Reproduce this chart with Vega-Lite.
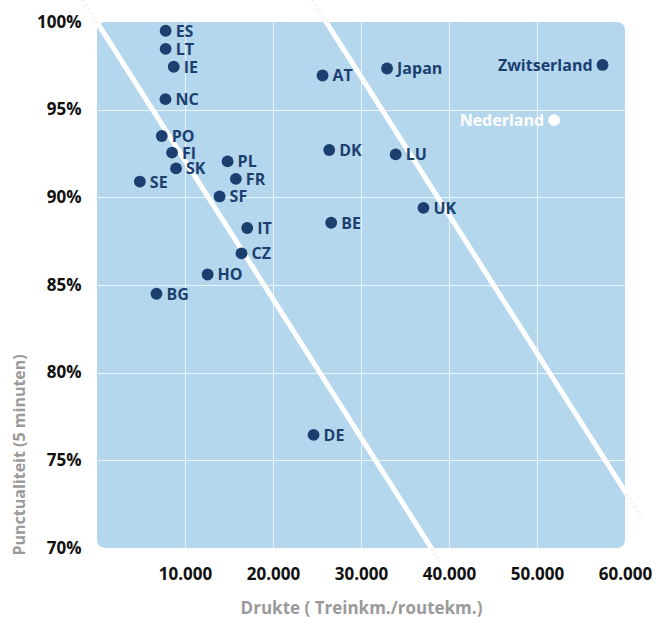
{
  "$schema": "https://vega.github.io/schema/vega-lite/v6.json",
  "width": 528,
  "height": 526,
  "autosize": {"type": "none"},
  "padding": {"left": 97, "top": 22, "right": 31, "bottom": 69},
  "background": "white",
  "config": {
    "font": "Open Sans",
    "view": {"fill": "#b4d7ee", "stroke": null, "cornerRadius": 8}
  },
  "datasets": {
    "landen": [
      {"land": "ES", "drukte": 7800, "punct": 99.5, "kant": "rechts"},
      {"land": "LT", "drukte": 7800, "punct": 98.47, "kant": "rechts"},
      {"land": "IE", "drukte": 8720, "punct": 97.45, "kant": "rechts"},
      {"land": "NC", "drukte": 7780, "punct": 95.6, "kant": "rechts"},
      {"land": "PO", "drukte": 7360, "punct": 93.5, "kant": "rechts"},
      {"land": "FI", "drukte": 8530, "punct": 92.55, "kant": "rechts"},
      {"land": "SK", "drukte": 8980, "punct": 91.65, "kant": "rechts"},
      {"land": "SE", "drukte": 4870, "punct": 90.9, "kant": "rechts"},
      {"land": "PL", "drukte": 14840, "punct": 92.05, "kant": "rechts"},
      {"land": "FR", "drukte": 15780, "punct": 91.05, "kant": "rechts"},
      {"land": "SF", "drukte": 13930, "punct": 90.05, "kant": "rechts"},
      {"land": "IT", "drukte": 17070, "punct": 88.25, "kant": "rechts"},
      {"land": "CZ", "drukte": 16420, "punct": 86.8, "kant": "rechts"},
      {"land": "HO", "drukte": 12570, "punct": 85.6, "kant": "rechts"},
      {"land": "BG", "drukte": 6760, "punct": 84.5, "kant": "rechts"},
      {"land": "DE", "drukte": 24610, "punct": 76.45, "kant": "rechts"},
      {"land": "AT", "drukte": 25630, "punct": 96.95, "kant": "rechts"},
      {"land": "Japan", "drukte": 32960, "punct": 97.35, "kant": "rechts"},
      {"land": "Zwitserland", "drukte": 57450, "punct": 97.55, "kant": "links"},
      {"land": "Nederland", "drukte": 51950, "punct": 94.4, "kant": "links"},
      {"land": "DK", "drukte": 26390, "punct": 92.7, "kant": "rechts"},
      {"land": "LU", "drukte": 33940, "punct": 92.45, "kant": "rechts"},
      {"land": "UK", "drukte": 37100, "punct": 89.4, "kant": "rechts"},
      {"land": "BE", "drukte": 26610, "punct": 88.55, "kant": "rechts"}
    ],
    "lijnen": [
      {"lijn": "a", "drukte": -1600, "punct": 101.25},
      {"lijn": "a", "drukte": 39000, "punct": 69.2},
      {"lijn": "b", "drukte": 24460, "punct": 101.25},
      {"lijn": "b", "drukte": 62060, "punct": 71.6}
    ]
  },
  "encoding": {
    "x": {
      "field": "drukte",
      "type": "quantitative",
      "scale": {"domain": [0, 60000], "nice": false, "zero": false},
      "axis": {
        "values": [10000, 20000, 30000, 40000, 50000, 60000],
        "labelExpr": "replace(format(datum.value, ','), ',', '.')",
        "labelFlush": false,
        "labelOverlap": false,
        "title": "Drukte ( Treinkm./routekm.)",
        "titleColor": "#9a9a9a",
        "titleFontSize": 17,
        "titleFontWeight": "bold",
        "titleY": 65,
        "titleBaseline": "alphabetic",
        "labelFontSize": 17,
        "labelFontWeight": "bold",
        "labelColor": "#111111",
        "labelPadding": 18,
        "ticks": false,
        "domain": false,
        "grid": true,
        "gridColor": {"condition": {"test": "datum.value >= 60000", "value": "transparent"}, "value": "#ffffff"},
        "gridOpacity": 0.75,
        "gridWidth": 1
      }
    },
    "y": {
      "field": "punct",
      "type": "quantitative",
      "scale": {"domain": [70, 100], "nice": false, "zero": false},
      "axis": {
        "values": [70, 75, 80, 85, 90, 95, 100],
        "labelExpr": "datum.value + '%'",
        "labelFlush": false,
        "labelOverlap": false,
        "title": "Punctualiteit (5 minuten)",
        "titleColor": "#9a9a9a",
        "titleFontSize": 16,
        "titleFontWeight": "bold",
        "titleAngle": -90,
        "titleAlign": "left",
        "titleBaseline": "bottom",
        "titleX": -70,
        "titleY": 533,
        "labelFontSize": 17,
        "labelFontWeight": "bold",
        "labelColor": "#111111",
        "labelPadding": 16,
        "ticks": false,
        "domain": false,
        "grid": true,
        "gridColor": {"condition": {"test": "datum.value <= 70 || datum.value >= 100", "value": "transparent"}, "value": "#ffffff"},
        "gridOpacity": 0.75,
        "gridWidth": 1
      }
    }
  },
  "layer": [
    {
      "data": {"name": "lijnen"},
      "mark": {"type": "line", "clip": false, "color": "#e6e6e6", "strokeWidth": 4, "strokeDash": [2, 3], "opacity": 0.45},
      "encoding": {"detail": {"field": "lijn"}}
    },
    {
      "data": {"name": "lijnen"},
      "mark": {"type": "line", "clip": true, "color": "#ffffff", "strokeWidth": 5},
      "encoding": {"detail": {"field": "lijn"}}
    },
    {
      "data": {"name": "landen"},
      "mark": {"type": "point", "filled": true, "shape": "circle", "size": 140, "opacity": 1},
      "encoding": {
        "color": {
          "condition": {"test": "datum.land == 'Nederland'", "value": "#ffffff"},
          "value": "#1b3f6e"
        }
      }
    },
    {
      "data": {"name": "landen"},
      "transform": [{"filter": "datum.kant == 'rechts'"}],
      "mark": {"type": "text", "align": "left", "baseline": "middle", "dx": 10, "dy": 1, "fontSize": 16, "fontWeight": "bold"},
      "encoding": {
        "text": {"field": "land"},
        "color": {"value": "#1b3f6e"}
      }
    },
    {
      "data": {"name": "landen"},
      "transform": [{"filter": "datum.kant == 'links'"}],
      "mark": {"type": "text", "align": "right", "baseline": "middle", "dx": -10, "dy": 1, "fontSize": 16, "fontWeight": "bold"},
      "encoding": {
        "text": {"field": "land"},
        "color": {
          "condition": {"test": "datum.land == 'Nederland'", "value": "#ffffff"},
          "value": "#1b3f6e"
        }
      }
    }
  ]
}
